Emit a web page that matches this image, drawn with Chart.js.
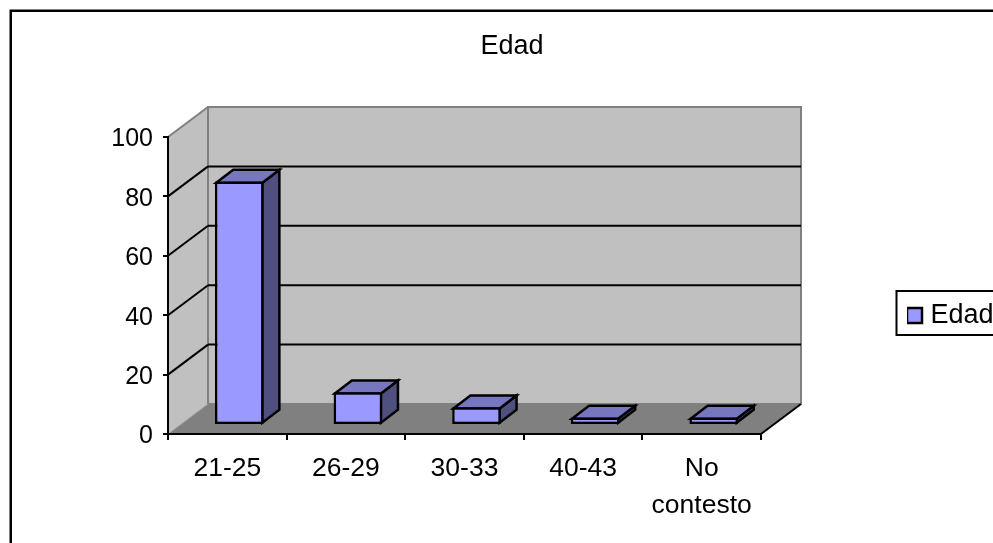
<!DOCTYPE html>
<html>
<head>
<meta charset="utf-8">
<title>Edad</title>
<style>
  html, body { margin: 0; padding: 0; background: #fff; overflow: hidden; }
  canvas { display: block; }
</style>
<script src="https://cdn.jsdelivr.net/npm/chart.js@4/dist/chart.umd.min.js"></script>
</head>
<body>
<canvas id="grafica" width="993" height="543"></canvas>
<script>
const categorias = ['21-25', '26-29', '30-33', '40-43', ['No', 'contesto']];
const edad = [82, 11, 6, 2.5, 2.5];
const nombreSerie = 'Edad';
const marcasY = [0, 20, 40, 60, 80, 100];

// fake 3D: depth of the box and of each bar, in pixels
const fondo = { x: 40, y: -30 };
const barra = { x: 12, y: -9, ladoX: 17, ladoY: -13 };

function poly(ctx, pts, fill, stroke, lw) {
    ctx.beginPath();
    pts.forEach(function (p, i) {
        if (i === 0) ctx.moveTo(p[0], p[1]);
        else ctx.lineTo(p[0], p[1]);
    });
    ctx.closePath();
    if (fill) { ctx.fillStyle = fill; ctx.fill(); }
    if (stroke) { ctx.strokeStyle = stroke; ctx.lineWidth = lw; ctx.lineJoin = 'miter'; ctx.stroke(); }
}

function linea(ctx, x1, y1, x2, y2, color, lw) {
    ctx.beginPath();
    ctx.moveTo(x1, y1);
    ctx.lineTo(x2, y2);
    ctx.strokeStyle = color;
    ctx.lineWidth = lw;
    ctx.stroke();
}

const caja3d = {
    id: 'caja3d',
    afterLayout(chart) {
        // title and legend do not sit where the layout would put them
        chart.titleBlock.left = 31;
        chart.titleBlock.right = 993;
        const lg = chart.legend;
        lg.left = 907;
        lg.right = 993.5;
        lg.top = 302;
        lg.bottom = 340;

        // y labels sit a bit under their ticks in the original
        const sy = chart.scales.y;
        if (!sy.labelsMovidos) {
            const dibujar = sy.drawLabels;
            sy.drawLabels = function (area) {
                chart.ctx.save();
                chart.ctx.translate(0, 2.5);
                dibujar.call(sy, area);
                chart.ctx.restore();
            };
            sy.labelsMovidos = true;
        }
    },
    beforeDraw(chart) {
        const ctx = chart.ctx;
        const a = chart.chartArea;
        const dx = fondo.x, dy = fondo.y;
        ctx.save();
        ctx.fillStyle = '#fff';
        ctx.fillRect(0, 0, chart.width, chart.height);

        // walls and floor
        poly(ctx, [[a.left, a.top], [a.left + dx, a.top + dy], [a.left + dx, a.bottom + dy], [a.left, a.bottom]], '#c0c0c0');
        poly(ctx, [[a.left + dx, a.top + dy], [a.right + dx, a.top + dy], [a.right + dx, a.bottom + dy], [a.left + dx, a.bottom + dy]], '#c0c0c0', '#808080', 2);
        poly(ctx, [[a.left, a.bottom], [a.left + dx, a.bottom + dy], [a.right + dx, a.bottom + dy], [a.right, a.bottom]], '#808080');
        linea(ctx, a.left, a.top, a.left + dx, a.top + dy, '#808080', 2);
        linea(ctx, a.left, a.bottom, a.left + dx, a.bottom + dy, '#a0a0a0', 1);
        linea(ctx, a.right, a.bottom, a.right + dx, a.bottom + dy, '#000', 2);

        // gridlines, front edge to the back wall
        const y = chart.scales.y;
        marcasY.slice(1, -1).forEach(function (v) {
            const py = y.getPixelForValue(v);
            linea(ctx, a.left, py, a.left + dx, py + dy, '#000', 2);
            linea(ctx, a.left + dx, py + dy, a.right + dx, py + dy, '#000', 2);
        });
        ctx.restore();
    },
    beforeDatasetsDraw(chart) {
        chart.ctx.save();
        chart.ctx.translate(barra.x, barra.y);
    },
    beforeDatasetDraw(chart, args) {
        // side and top of each bar go under the front face
        const ctx = chart.ctx;
        const lx = barra.ladoX, ly = barra.ladoY;
        args.meta.data.forEach(function (b) {
            const izq = b.x - b.width / 2 + 1.25, der = b.x + b.width / 2 - 1.25;
            const arr = b.y + 1.25, aba = b.base - 1.25;
            poly(ctx, [[der, arr], [der + lx, arr + ly], [der + lx, aba + ly], [der, aba]], '#4f4f80', '#000', 2.5);
            poly(ctx, [[izq, arr], [izq + lx, arr + ly], [der + lx, arr + ly], [der, arr]], '#7777c0', '#000', 2.5);
        });
    },
    afterDatasetsDraw(chart) {
        chart.ctx.restore();
    },
    afterDraw(chart) {
        const ctx = chart.ctx;
        ctx.save();
        // outer frame runs off the picture, legend frame too
        ctx.strokeStyle = '#000';
        ctx.lineWidth = 2.5;
        ctx.strokeRect(10.75, 10.75, 1100, 600);
        ctx.lineWidth = 2;
        ctx.strokeRect(896.5, 291, 200, 44);
        ctx.restore();
    }
};

new Chart(document.getElementById('grafica'), {
    type: 'bar',
    data: {
        labels: categorias,
        datasets: [{
            label: nombreSerie,
            data: edad,
            backgroundColor: '#9999ff',
            borderColor: '#000',
            borderWidth: 2.5,
            borderSkipped: false,
            barPercentage: 0.41,
            categoryPercentage: 1
        }]
    },
    options: {
        responsive: false,
        animation: false,
        layout: { padding: { left: 108, right: 232, top: 0, bottom: 19 } },
        font: { family: '"Liberation Sans", Arial, sans-serif' },
        scales: {
            x: {
                afterFit(s) { s.height = 90; },
                grid: { drawOnChartArea: false, tickLength: 6, color: '#000', lineWidth: 2, offset: true },
                border: { color: '#000', width: 2 },
                ticks: { color: '#000', font: { size: 26.5, lineHeight: 1.4 }, padding: 10, maxRotation: 0, autoSkip: false }
            },
            y: {
                min: 0,
                max: 100,
                afterFit(s) { s.width = 60; },
                grid: { drawOnChartArea: false, tickLength: 5, color: '#000', lineWidth: 2 },
                border: { color: '#000', width: 2 },
                ticks: { color: '#000', stepSize: 20, font: { size: 25 }, padding: 10 }
            }
        },
        plugins: {
            title: {
                display: true,
                text: nombreSerie,
                color: '#000',
                font: { size: 27, weight: 'normal', lineHeight: 1.2 },
                padding: { top: 30, bottom: 74.6 }
            },
            legend: {
                position: 'chartArea',
                align: 'start',
                labels: { color: '#000', boxWidth: 15, boxHeight: 15, padding: 0, textAlign: 'right', font: { size: 27 } }
            },
            tooltip: { enabled: false }
        }
    },
    plugins: [caja3d]
});
</script>
</body>
</html>
